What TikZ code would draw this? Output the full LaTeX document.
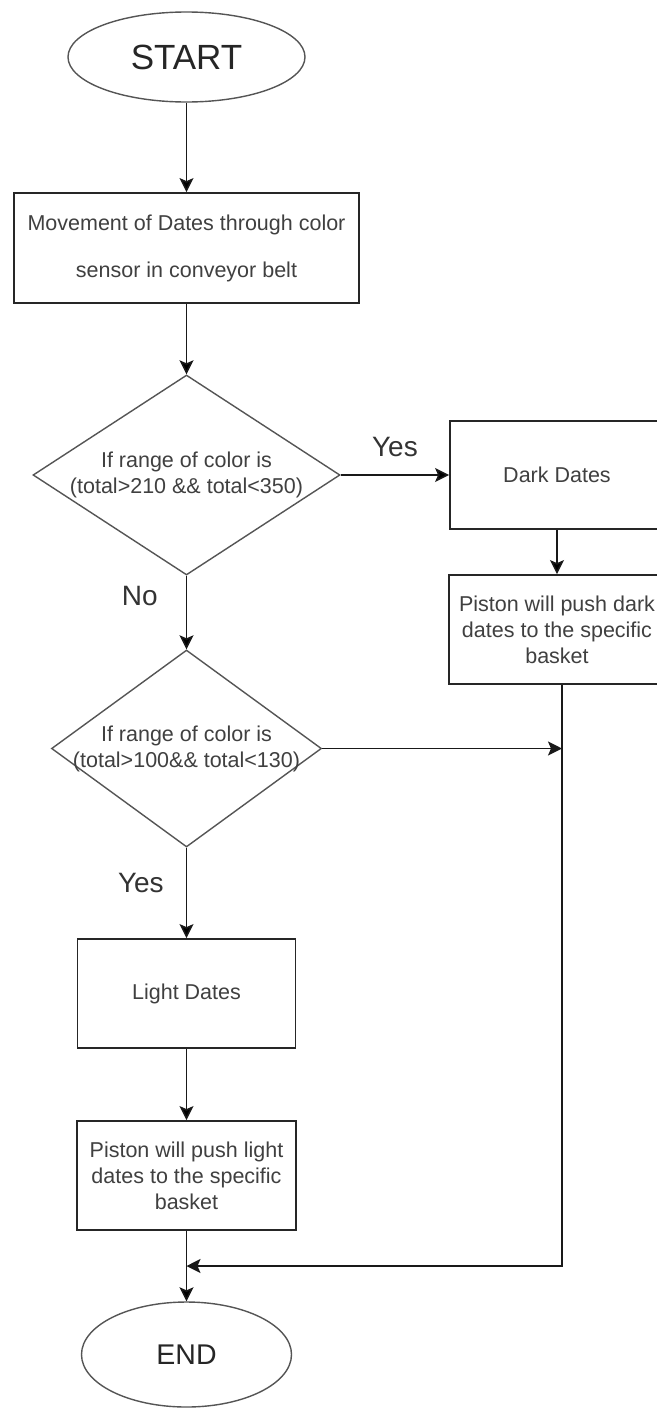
\documentclass[tikz,border=0pt]{standalone}
\usepackage{fontspec}
\setmainfont{Liberation Sans}
\usetikzlibrary{shapes.geometric, arrows.meta}
\definecolor{inkgray}{HTML}{404040}
\definecolor{linegray}{HTML}{555555}
\begin{document}
\begin{tikzpicture}[x=1pt, y=-1pt,
  terminal/.style={shape=ellipse, draw=linegray, line width=1.4pt, inner sep=0pt, text=black!85},
  process/.style={shape=rectangle, draw=black!85, line width=1.8pt, inner sep=0pt, align=center, text=inkgray, font=\fontsize{21.5}{26}\selectfont},
  decision/.style={shape=diamond, draw=linegray, line width=1.4pt, inner sep=0pt},
  dtext/.style={align=center, text=inkgray, font=\fontsize{21.5}{26}\selectfont},
  lbl/.style={inner sep=0pt, text=black!80, font=\fontsize{28}{34}\selectfont},
  flow/.style={-{Stealth[length=14pt, width=14pt, inset=3pt]}, line width=1.6pt, draw=black!90}]
\path [use as bounding box, fill=white] (0,0) rectangle (656,1408);
\node[terminal, minimum width=237pt, minimum height=90pt, font=\fontsize{35}{42}\selectfont] (start) at (186.5,57) {START};
\node[process, minimum width=345pt, minimum height=110pt, font=\fontsize{21.5}{47}\selectfont] (move) at (186.5,248) {Movement of Dates through color\\sensor in conveyor belt};
\node[decision, minimum width=307pt, minimum height=200pt, label={[dtext]center:If range of color is\\(total>210 \&\& total<350)}] (dec1) at (186.5,475) {};
\node[process, minimum width=214pt, minimum height=108pt] (dark) at (557,475) {Dark Dates};
\node[process, minimum width=216pt, minimum height=109pt] (pdark) at (557,629.5) {Piston will push dark\\dates to the specific\\basket};
\node[decision, minimum width=270pt, minimum height=197pt, label={[dtext]center:If range of color is\\(total>100\&\& total<130)}] (dec2) at (186.5,748.5) {};
\node[process, minimum width=218pt, minimum height=109pt] (light) at (186.5,993.5) {Light Dates};
\node[process, minimum width=219pt, minimum height=109pt] (plight) at (186.5,1175.5) {Piston will push light\\dates to the specific\\basket};
\node[terminal, minimum width=210pt, minimum height=105pt, font=\fontsize{28.5}{34}\selectfont] (end) at (186.5,1354.5) {END};
\coordinate (mrg) at (186.5,1266);
\coordinate (rline) at (562,1266);
% main column
\path [flow] (start) edge (move);
\path [flow] (move) edge (dec1);
\path [flow] (dec1) edge node[lbl, above=17pt] {Yes} (dark);
\path [flow] (dark) edge (pdark);
\path [flow] (dec1) edge node[lbl, pos=0.27, left=28pt] {No} (dec2);
\path [flow] (dec2) edge node[lbl, pos=0.39, left=22pt] {Yes} (light);
\path [flow] (light) edge (plight);
\path [flow] (plight) edge (end);
% return line on the right
\draw [flow] (dec2.east) -- (dec2.east -| rline);
\draw [flow] ([xshift=5pt]pdark.south) |- (mrg);
\end{tikzpicture}
\end{document}
